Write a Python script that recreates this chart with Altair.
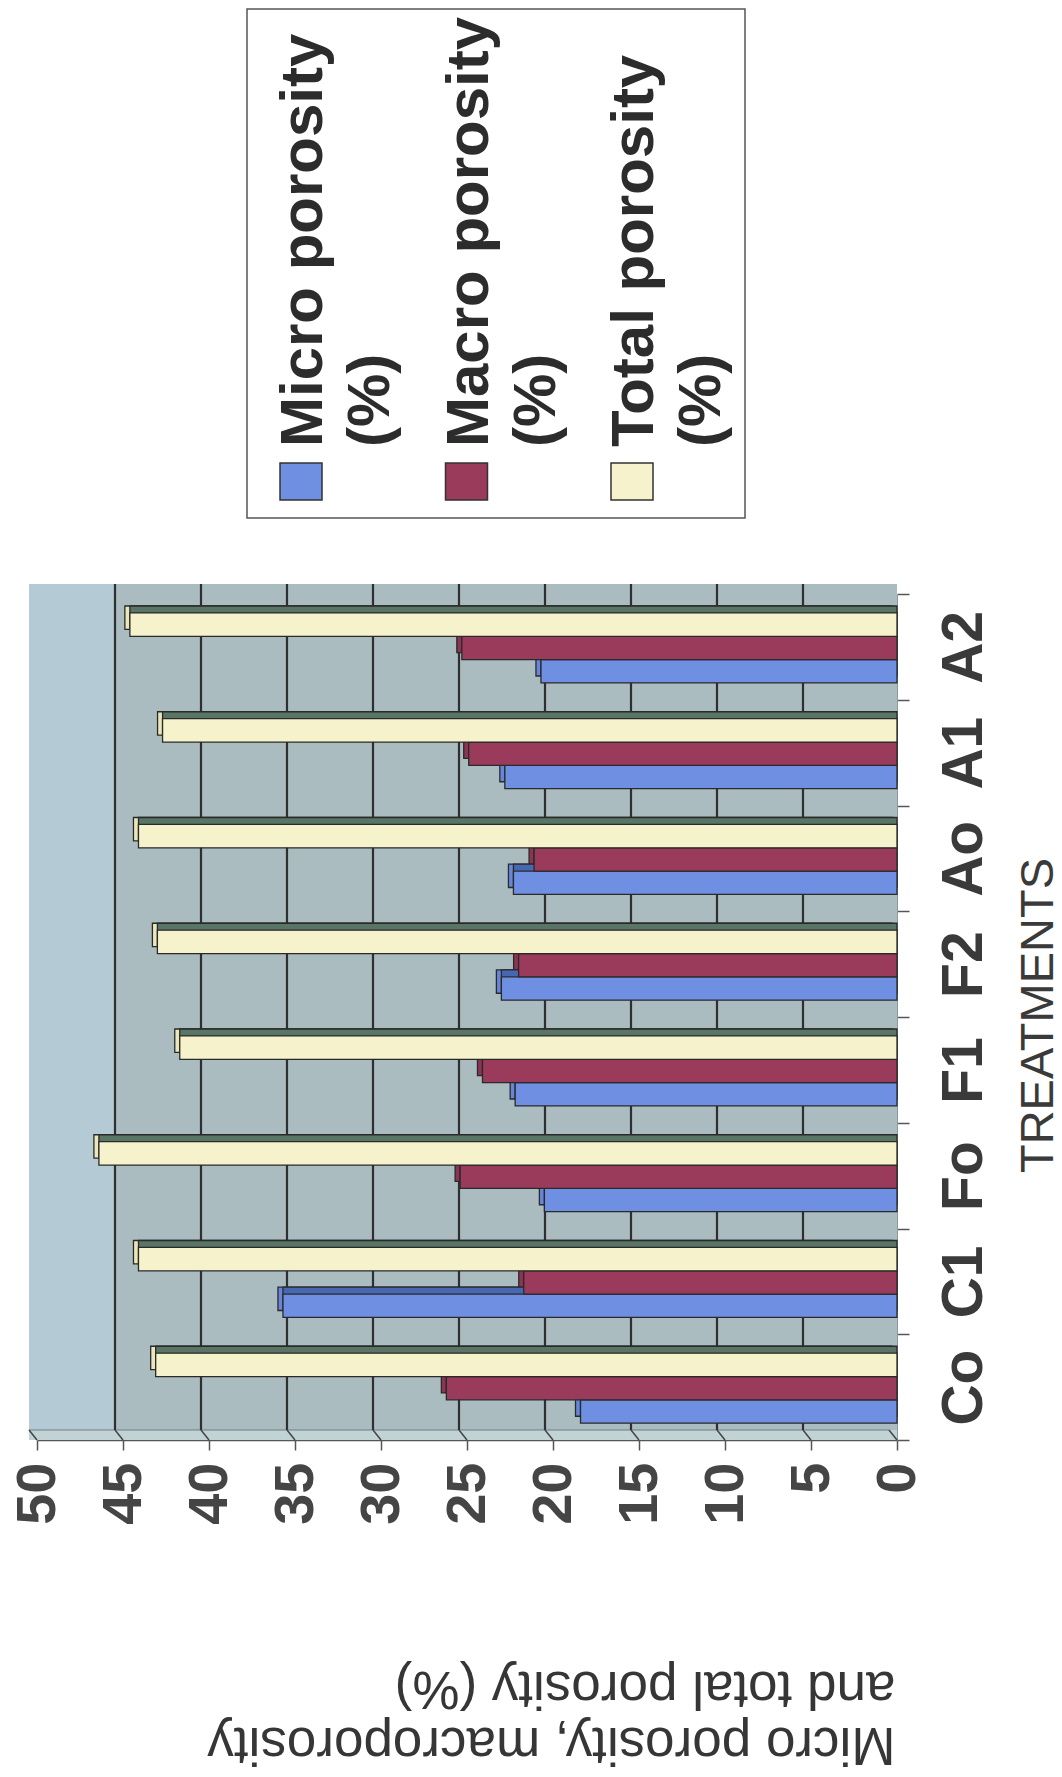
import altair as alt
import pandas as pd

# ---- data -------------------------------------------------------------
treatments = ["Co", "C1", "Fo", "F1", "F2", "Ao", "A1", "A2"]
micro_porosity = [18.4, 35.7, 20.5, 22.2, 23.0, 22.3, 22.8, 20.7]
macro_porosity = [26.2, 21.7, 25.4, 24.1, 22.0, 21.1, 24.9, 25.3]
total_porosity = [43.1, 44.1, 46.4, 41.7, 43.0, 44.1, 42.7, 44.6]
series_names = ["Micro porosity (%)", "Macro porosity (%)", "Total porosity (%)"]
value_ticks = [0, 5, 10, 15, 20, 25, 30, 35, 40, 45, 50]
grid_values = [5, 10, 15, 20, 25, 30, 35, 40, 45]

# ---- styling ----------------------------------------------------------
face_colors = ["#6f8fe3", "#9b3b5c", "#f6f3cc"]
end_colors = ["#6786da", "#8c3453", "#ebe7bb"]
top_colors = ["#4767b2", "#6a2540", "#587566"]
FONT = "Liberation Sans"
W, H = 860, 846
DX, DY = -8, -10          # depth shift of the back wall
BX = -5                   # depth shift of each bar's end face

rows = []
for name, vals in zip(series_names, [micro_porosity, macro_porosity, total_porosity]):
    for t, v in zip(treatments, vals):
        rows.append({"treatment": t, "series": name, "value": v})
bars_df = pd.DataFrame(rows)
grid_df = pd.DataFrame({"value": grid_values})
tick_df = pd.DataFrame({"value": value_ticks})
one_row = pd.DataFrame({"k": [0]})
wall_df = pd.DataFrame({"value": [50], "hi": [0], "edge": [45]})

x_scale = alt.Scale(domain=[0, 50], reverse=True, nice=False, zero=True)
y_sort = treatments[::-1]
y_scale = alt.Scale(paddingInner=0, paddingOuter=0)
offset_order = series_names[::-1]

x_axis = alt.Axis(
    values=value_ticks, format="d", grid=False,
    labelAngle=270, labelAlign="right", labelBaseline="middle",
    labelFont=FONT, labelFontWeight="bold", labelFontSize=56, labelColor="#454545",
    labelPadding=12, labelFlush=False, labelOverlap=False,
    tickSize=10, tickColor="#555555", tickWidth=1.5,
    domainColor="#555555", domainWidth=1.5,
    title=["Micro porosity, macroporosity", "and total porosity (%)"],
    titleAngle=180, titleAlign="left", titleBaseline="alphabetic",
    titleX=858, titleY=287, titleLineHeight=56,
    titleFont=FONT, titleFontSize=53, titleFontWeight="normal", titleColor="#363636",
)
y_axis = alt.Axis(
    orient="right", tickBand="extent", grid=False,
    labelAngle=270, labelAlign="center", labelBaseline="top",
    labelFont=FONT, labelFontWeight="bold", labelFontSize=57, labelColor="#3a3a3a",
    labelPadding=27, tickSize=12, tickColor="#555555", tickWidth=1.5,
    domainColor="#8a9a9e", domainWidth=1,
    title="TREATMENTS", titleAngle=270, titleAlign="center", titleBaseline="alphabetic",
    titleX=155, titleY=421, titleFont=FONT, titleFontSize=47, titleFontWeight="normal",
    titleColor="#3a3a3a",
)


def xq(field="value"):
    return alt.X(f"{field}:Q", scale=x_scale, axis=x_axis)


# ---- back wall, floor and gridlines -----------------------------------
wall = alt.Chart(wall_df).mark_rect(color="#abbcc1", xOffset=DX).encode(
    x=xq(), x2="hi:Q", y=alt.value(DY), y2=alt.value(H + DY),
)
wall_edge = alt.Chart(wall_df).mark_rect(color="#b4cad4", xOffset=DX, x2Offset=DX).encode(
    x=xq(), x2="edge:Q", y=alt.value(DY), y2=alt.value(H + DY),
)
floor = alt.Chart(wall_df).mark_rect(color="#c2d3d6", xOffset=DX).encode(
    x=xq(), x2="hi:Q", y=alt.value(H + DY), y2=alt.value(H),
)
floor_line = alt.Chart(wall_df).mark_rule(color="#6f7f83", strokeWidth=1.2, xOffset=DX, x2Offset=DX).encode(
    x=xq(), x2="hi:Q", y=alt.value(H + DY),
)
grid = alt.Chart(grid_df).mark_rule(color="#2f2f2f", strokeWidth=2.2, xOffset=DX).encode(
    x=xq(), y=alt.value(DY), y2=alt.value(H + DY),
)
floor_ticks = alt.Chart(tick_df).mark_rule(color="#444444", strokeWidth=1.5, xOffset=DX).encode(
    x=xq(), x2="value:Q", y=alt.value(H + DY), y2=alt.value(H),
)


# ---- 3-D bars: end faces, top faces, front faces ---------------------
def bar_layer(colors, align, x_off):
    mark = alt.Chart(bars_df).mark_bar(
        stroke="#2a2a2a", strokeWidth=1.3, xOffset=x_off, x2Offset=x_off
    )
    return mark.encode(
        x=xq(),
        y=alt.Y("treatment:N", sort=y_sort, scale=y_scale, axis=y_axis),
        yOffset=alt.YOffset("series:N", sort=offset_order,
                            scale=alt.Scale(paddingInner=0, paddingOuter=0.767, align=align)),
        color=alt.Color("series:N", scale=alt.Scale(domain=series_names, range=colors),
                        legend=None),
    )


end_faces = bar_layer(end_colors, 0.336, BX)
top_faces = bar_layer(top_colors, 0.336, 0)
front_faces = bar_layer(face_colors, 0.53, 0)

# ---- legend -----------------------------------------------------------
legend_layers = [
    alt.Chart(one_row).mark_rect(fill="white", stroke="#555555", strokeWidth=1.5).encode(
        x=alt.value(210), x2=alt.value(708), y=alt.value(-585), y2=alt.value(-76)
    )
]
for i, name in enumerate(series_names):
    step = i * 165.5
    legend_layers.append(
        alt.Chart(one_row).mark_rect(fill=face_colors[i], stroke="#333333", strokeWidth=1.5).encode(
            x=alt.value(243 + step), x2=alt.value(285 + step),
            y=alt.value(-131), y2=alt.value(-94),
        )
    )
    head, tail = name.rsplit(" ", 1)
    legend_layers.append(
        alt.Chart(one_row).mark_text(
            text=[head, tail], angle=270, align="left", baseline="alphabetic",
            font=FONT, fontSize=60, fontWeight="bold", lineHeight=67, color="#2c2c2c",
        ).encode(x=alt.value(285 + step), y=alt.value(-147))
    )

chart = alt.layer(
    wall, wall_edge, floor, floor_line, grid, floor_ticks,
    end_faces, top_faces, front_faces, *legend_layers,
).resolve_scale(
    yOffset="independent", color="independent"
).properties(
    width=W, height=H,
    padding={"left": 37, "top": 594, "right": 165, "bottom": 337},
    autosize=alt.AutoSizeParams(type="none"),
    background="white",
).configure_view(stroke=None)

chart.save("out.html", embed_options={"renderer": "svg", "actions": False})
